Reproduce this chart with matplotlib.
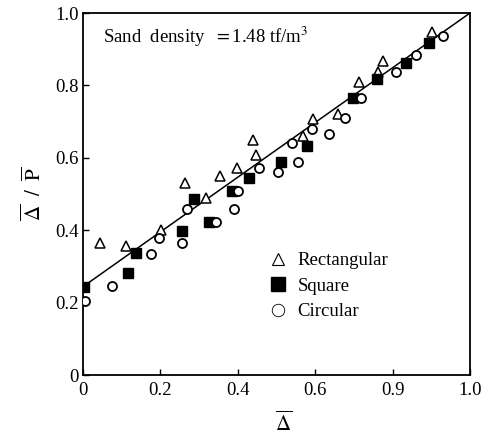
import matplotlib
matplotlib.use("Agg")
import matplotlib.pyplot as plt
from matplotlib.lines import Line2D

plt.rcParams['font.family'] = ['Liberation Serif', 'DejaVu Serif']
plt.rcParams['mathtext.fontset'] = 'stix'

rect_x = [0.043, 0.110, 0.201, 0.264, 0.319, 0.355, 0.398, 0.440, 0.448, 0.569, 0.595, 0.659, 0.714, 0.761, 0.774, 0.903]
rect_y = [0.364, 0.357, 0.401, 0.530, 0.490, 0.551, 0.571, 0.648, 0.608, 0.661, 0.707, 0.720, 0.809, 0.836, 0.868, 0.947]

sq_x = [0.003, 0.117, 0.138, 0.257, 0.286, 0.326, 0.385, 0.429, 0.511, 0.578, 0.697, 0.759, 0.834, 0.894]
sq_y = [0.242, 0.283, 0.336, 0.398, 0.486, 0.424, 0.508, 0.545, 0.588, 0.633, 0.765, 0.817, 0.863, 0.917]

circ_x = [0.004, 0.075, 0.177, 0.196, 0.255, 0.270, 0.343, 0.391, 0.401, 0.454, 0.504, 0.541, 0.556, 0.591, 0.636, 0.678, 0.718, 0.810, 0.860, 0.931]
circ_y = [0.205, 0.247, 0.334, 0.378, 0.364, 0.459, 0.424, 0.458, 0.507, 0.573, 0.560, 0.642, 0.589, 0.679, 0.665, 0.709, 0.764, 0.836, 0.884, 0.937]

fit_x = [0.0, 1.0]
fit_y = [0.244, 1.0]

xticks = [0, 0.2, 0.4, 0.6, 0.8, 1.0]
xtick_labels = ['0', '0.2', '0.4', '0.6', '0.9', '1.0']
yticks = [0, 0.2, 0.4, 0.6, 0.8, 1.0]
ytick_labels = ['0', '0.2', '0.4', '0.6', '0.8', '1.0']

fig = plt.figure(figsize=(4.85, 4.36), dpi=100)
ax = fig.add_axes([83/485, 61/436, 387/485, 362/436])

ax.plot(fit_x, fit_y, color='black', lw=1.1, zorder=2)
ax.plot(rect_x, rect_y, linestyle='none', marker='^', ms=7.5, mfc='white', mec='black', mew=1.1, zorder=3)
ax.plot(sq_x, sq_y, linestyle='none', marker='s', ms=6.5, mfc='black', mec='black', mew=1.0, zorder=3)
ax.plot(circ_x, circ_y, linestyle='none', marker='o', ms=6.5, mfc='white', mec='black', mew=1.3, zorder=3)

ax.set_xlim(0, 1.0)
ax.set_ylim(0, 1.0)
ax.set_xticks(xticks)
ax.set_xticklabels(xtick_labels)
ax.set_yticks(yticks)
ax.set_yticklabels(ytick_labels)
ax.tick_params(direction='in', length=4, width=1, labelsize=13.5, pad=5)
ax.tick_params(axis='y', pad=3)
for s in ax.spines.values():
    s.set_linewidth(1.3)

ax.set_xlabel(r'$\overline{\Delta}$', fontsize=15)
ax.xaxis.set_label_coords(0.517, -0.100)
ax.set_ylabel(r'$\overline{\Delta}\ \ /\ \ \overline{\mathrm{P}}$', fontsize=15)
ax.yaxis.set_label_coords(-0.095, 0.5)

ax.text(0.052, 0.934, r'Sand  density  $=$1.48 tf/m$^3$', fontsize=13.5, va='center', ha='left',
        transform=ax.transAxes)

handles = [
    Line2D([], [], linestyle='none', marker='^', ms=9, mfc='white', mec='black', mew=0.8),
    Line2D([], [], linestyle='none', marker='s', ms=10, mfc='black', mec='black'),
    Line2D([], [], linestyle='none', marker='o', ms=9, mfc='white', mec='black', mew=0.6),
]
ax.legend(handles, ['Rectangular', 'Square', 'Circular'], loc='upper left',
          bbox_to_anchor=(0.455, 0.365), frameon=False, fontsize=13.5,
          handlelength=1.0, handletextpad=0.55, labelspacing=0.45, borderpad=0)

fig.savefig('out.png', dpi=100)
